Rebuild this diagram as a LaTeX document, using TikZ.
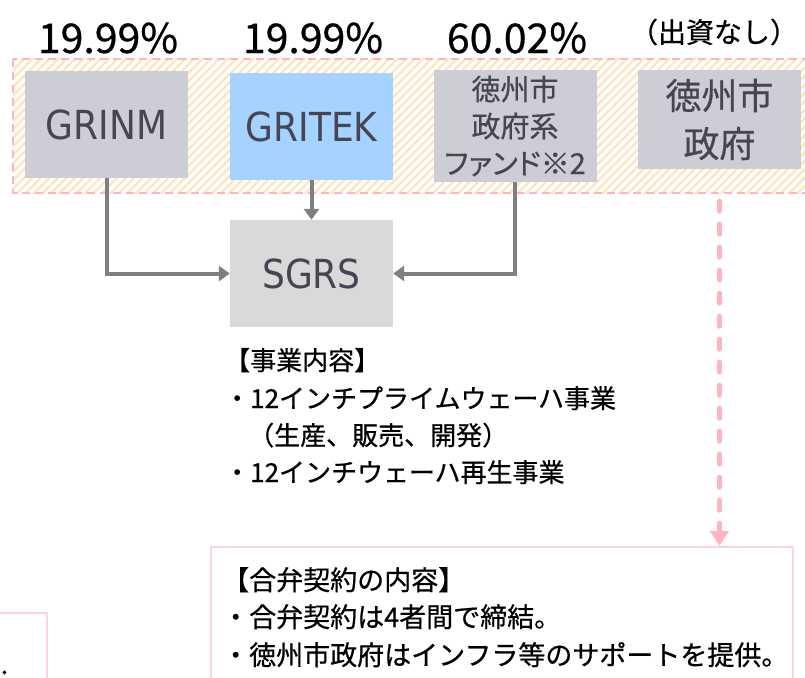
\documentclass[tikz,border=0pt]{standalone}
\usepackage{fontspec}
\setmainfont{Noto Sans CJK JP}[FakeBold=0.6]
\newfontfamily\lat{DejaVu Sans Condensed}
\usetikzlibrary{arrows.meta,patterns.meta}
\definecolor{boxgray}{RGB}{205,205,214}
\definecolor{boxblue}{RGB}{166,210,255}
\definecolor{sgrsgray}{RGB}{217,217,217}
\definecolor{txtgray}{RGB}{70,70,82}
\definecolor{arrgray}{RGB}{127,127,127}
\definecolor{pinkdash}{RGB}{255,180,190}
\definecolor{pinkline}{RGB}{255,210,216}
\definecolor{hatch}{RGB}{255,226,190}
\begin{document}
\begin{tikzpicture}[x=1pt,y=-1pt,
  ent/.style={rectangle, inner sep=0pt, minimum width=163pt, text=txtgray, align=center},
  latlbl/.style={font=\lat\fontsize{40}{44}\selectfont},
  link/.style={draw=arrgray, line width=4pt, -{Triangle[width=15pt,length=11pt]}},
  pct/.style={font=\fontsize{41}{44}\selectfont, inner sep=0pt},
  body/.style={anchor=base west, font=\fontsize{26}{30}\selectfont, inner sep=0pt},
  bodyb/.style={anchor=base west, font=\fontsize{27}{30}\selectfont, inner sep=0pt}]
\useasboundingbox (0,0) rectangle (805,677);
\clip (0,0) rectangle (805,677);
\fill[white] (0,0) rectangle (805,677);
% group area
\fill[pattern={Lines[angle=45,distance=6pt,line width=2.2pt]}, pattern color=hatch] (13,59) rectangle (830,193);
\draw[pinkdash, line width=2.5pt, dash pattern=on 8pt off 5pt] (13,59) rectangle (830,193);
% shareholders
\node[ent, fill=boxgray, minimum height=107pt, latlbl] (grinm) at (106.5,124.5) {GRINM};
\node[ent, fill=boxblue, minimum height=107pt, latlbl] (gritek) at (311.5,126.5) {GRITEK};
\node[ent, fill=boxgray, minimum height=112pt, font=\fontsize{29}{37}\selectfont] (fund) at (515,126) {徳州市\\政府系\\{\addfontfeature{RawFeature=+palt}ファンド※2}};
\node[ent, fill=boxgray, minimum height=99pt, font=\fontsize{36}{48}\selectfont] (gov) at (719.5,119.5) {徳州市\\政府};
% percentages
\node[pct] (p1) at (108,38) {19.99\%};
\node[pct] (p2) at (313,38) {19.99\%};
\node[pct] (p3) at (517,38) {60.02\%};
\node[font=\fontsize{28}{30}\selectfont, inner sep=0pt] (p4) at (714,32) {（出資なし）};
% JV
\node[ent, fill=sgrsgray, minimum height=107pt, latlbl] (sgrs) at (311.5,273.5) {SGRS};
\draw[link] (grinm.south) |- (sgrs.west);
\draw[link] (gritek.south) -- (sgrs.north);
\draw[link] (fund.south) |- (sgrs.east);
% business description
\node[body] (b1) at (224,370) {【事業内容】};
\node[body] (b2) at (224,408) {・12インチプライムウェーハ事業};
\node[body] (b3) at (248,445) {（生産、販売、開発）};
\node[body] (b4) at (224,482) {・12インチウェーハ再生事業};
% contract box
\node[draw=pinkline, line width=2pt, minimum width=582pt, minimum height=160pt, anchor=north west, inner sep=0pt] (contract) at (210,546) {};
\draw[pinkdash, line width=5pt, line cap=round, dash pattern=on 10pt off 13pt,
  -{Triangle[width=18pt,length=15pt]}, shorten <=32pt] (gov.south) -- (gov.south |- contract.north);
\node[bodyb] (c1) at (222,590) {【合弁契約の内容】};
\node[bodyb] (c2) at (222,627) {・合弁契約は4者間で締結。};
\node[bodyb] (c3) at (222,665) {・徳州市政府はインフラ等のサポートを提供。};
% partial box at lower left
\draw[pinkline, line width=2pt] (-10,613) -| (47,700);
\node[bodyb] (dot) at (0.5,674) {.};
\end{tikzpicture}
\end{document}
